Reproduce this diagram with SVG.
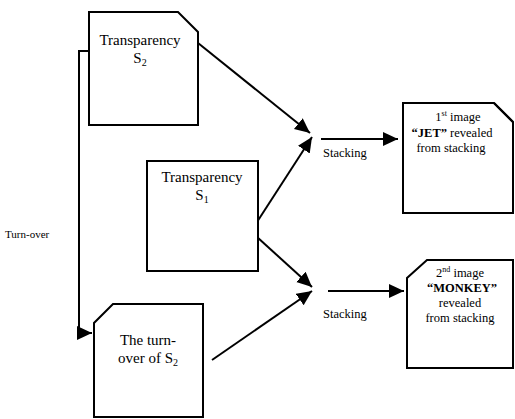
<svg xmlns="http://www.w3.org/2000/svg" width="515" height="419" viewBox="0 0 515 419">
<style>
.box{fill:#fff;stroke:#000;stroke-width:2}
.line{fill:none;stroke:#000;stroke-width:2}
text{font-family:"Liberation Serif","Times New Roman",serif;fill:#000}
.t{font-size:15px;text-anchor:middle}
.s{font-size:12.5px}
.b{font-size:12.5px;text-anchor:middle}
</style>
<defs>
<marker id="ah" markerUnits="userSpaceOnUse" markerWidth="17" markerHeight="16" refX="15" refY="7" orient="auto">
<path d="M0,0 L15,7 L0,14 z" fill="#000"/>
</marker>
</defs>
<rect width="515" height="419" fill="#fff"/>
<g id="connectors">
<polyline class="line" points="89,51 79,51 79,333 92,333" marker-end="url(#ah)"/>
<line class="line" x1="198" y1="43" x2="310" y2="133" marker-end="url(#ah)"/>
<line class="line" x1="257" y1="222" x2="312" y2="137" marker-end="url(#ah)"/>
<line class="line" x1="257" y1="237" x2="312" y2="287" marker-end="url(#ah)"/>
<line class="line" x1="212" y1="360" x2="312" y2="291" marker-end="url(#ah)"/>
<line class="line" x1="321" y1="139" x2="398" y2="139" marker-end="url(#ah)"/>
<line class="line" x1="328" y1="291" x2="404" y2="291" marker-end="url(#ah)"/>
</g>
<g id="label-turnover"><text x="5" y="238" font-size="11">Turn-over</text></g>
<g id="label-stacking1"><text class="s" x="323" y="157">Stacking</text></g>
<g id="label-stacking2"><text class="s" x="323" y="318">Stacking</text></g>
<g id="node-s2">
<path class="box" d="M89,12 L178,12 L198,32 L198,125 L89,125 Z"/>
<text class="t" x="140" y="45">Transparency</text>
<text class="t" x="140" y="63">S<tspan font-size="10" dy="3">2</tspan></text>
</g>
<g id="node-s1">
<rect class="box" x="147" y="161" width="111" height="110"/>
<text class="t" x="202" y="182">Transparency</text>
<text class="t" x="202" y="200">S<tspan font-size="10" dy="3">1</tspan></text>
</g>
<g id="node-turnover">
<path class="box" d="M113,304 L203,304 L203,417 L94,417 L94,323 Z"/>
<text class="t" x="148" y="345">The turn-</text>
<text class="t" x="148" y="363">over of S<tspan font-size="10" dy="3">2</tspan></text>
</g>
<g id="node-image1">
<path class="box" d="M403,103 L494,103 L513,122 L513,213 L403,213 Z"/>
<line class="line" x1="494" y1="103" x2="513" y2="122"/>
<text class="b" x="458" y="121">1<tspan font-size="8" dy="-5">st</tspan><tspan dy="5"> image</tspan></text>
<text class="b" x="452" y="137"><tspan font-weight="bold">“JET”</tspan> revealed</text>
<text class="b" x="451" y="152">from stacking</text>
</g>
<g id="node-image2">
<path class="box" d="M427,260 L513,260 L513,368 L407,368 L407,278 Z"/>
<text class="b" x="460" y="277">2<tspan font-size="8" dy="-5">nd</tspan><tspan dy="5"> image</tspan></text>
<text class="b" x="462" y="292" font-weight="bold" font-size="14">“MONKEY”</text>
<text class="b" x="460" y="307">revealed</text>
<text class="b" x="460" y="322">from stacking</text>
</g>
</svg>
